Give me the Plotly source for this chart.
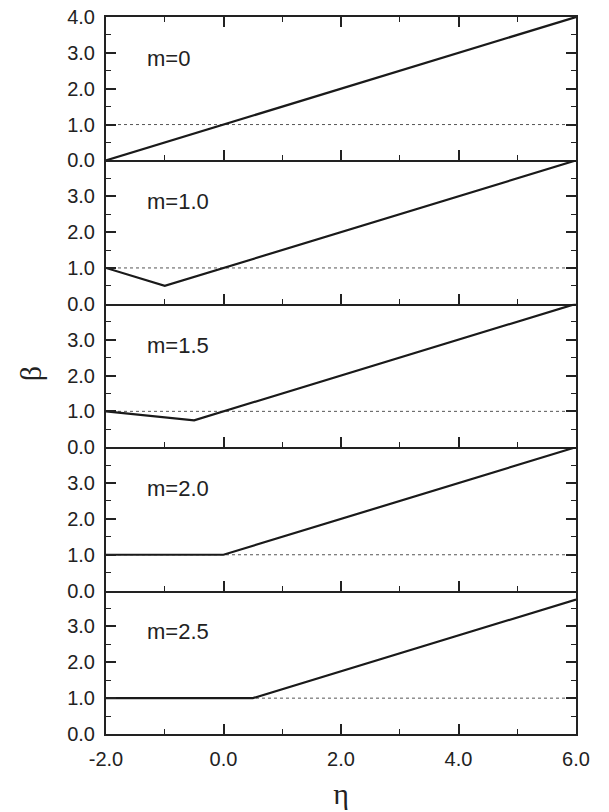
import plotly.graph_objects as go
from plotly.subplots import make_subplots

labels = ["m=0", "m=1.0", "m=1.5", "m=2.0", "m=2.5"]
eta_vals = [
    [-2.0, 6.0],
    [-2.0, -1.0, 6.0],
    [-2.0, -0.5, 6.0],
    [-2.0, 0.0, 6.0],
    [-2.0, 0.5, 6.0],
]
beta_vals = [
    [0.0, 4.0],
    [1.0, 0.5, 4.0],
    [1.0, 0.75, 4.0],
    [1.0, 1.0, 4.0],
    [1.0, 1.0, 3.75],
]
ref_eta = [-2.0, 6.0]
ref_beta = [1.0, 1.0]
x_ticks = [-2, 0, 2, 4, 6]
x_ticktext = ["-2.0", "0.0", "2.0", "4.0", "6.0"]

n = len(labels)
fig = make_subplots(rows=n, cols=1, shared_xaxes=True, vertical_spacing=0)

font_fam = "Liberation Sans, Arial, sans-serif"
ink = "#222222"
for i in range(n):
    r = i + 1
    fig.add_trace(go.Scatter(x=ref_eta, y=ref_beta, mode="lines",
                             line=dict(color="#555555", width=1, dash="3px,3px"),
                             showlegend=False), row=r, col=1)
    fig.add_trace(go.Scatter(x=eta_vals[i], y=beta_vals[i], mode="lines",
                             line=dict(color="#1a1a1a", width=2.2),
                             showlegend=False), row=r, col=1)
    yv = [0, 1, 2, 3, 4] if i == 0 else [0, 1, 2, 3]
    fig.update_yaxes(range=[0, 4], tickvals=yv, ticktext=[f"{v:.1f}" for v in yv],
                     ticks="inside", ticklen=10, tickwidth=1.5, tickcolor=ink,
                     minor=dict(ticks="inside", ticklen=5, tickwidth=1.2, tickcolor=ink,
                                tickvals=[0.5, 1.5, 2.5, 3.5]),
                     showline=True, linecolor=ink, linewidth=2, mirror="ticks",
                     showgrid=False, zeroline=False, ticklabelstandoff=5,
                     automargin=False,
                     tickfont=dict(size=20, color=ink, family=font_fam),
                     row=r, col=1)
    fig.update_xaxes(range=[-2, 6], tickvals=x_ticks, ticktext=x_ticktext,
                     ticks="inside", ticklen=10, tickwidth=1.5, tickcolor=ink,
                     minor=dict(ticks="inside", ticklen=5, tickwidth=1.2, tickcolor=ink,
                                tickvals=[-1, 1, 3, 5]),
                     showline=True, linecolor=ink, linewidth=2,
                     mirror=("ticks" if r == 1 else False),
                     showgrid=False, zeroline=False, automargin=False,
                     showticklabels=(r == n), ticklabelstandoff=6,
                     tickfont=dict(size=20, color=ink, family=font_fam),
                     row=r, col=1)
    yref = "y" if i == 0 else f"y{r}"
    xref = "x" if i == 0 else f"x{r}"
    fig.add_annotation(x=-1.33, y=2.85, xref=xref, yref=yref, text=labels[i],
                       showarrow=False, xanchor="left", yanchor="middle",
                       font=dict(size=22, color=ink, family=font_fam))

fig.update_xaxes(title=dict(text="η", font=dict(size=30, family="Liberation Serif, serif", color=ink),
                            standoff=14), row=n, col=1)
fig.add_annotation(x=-0.162, y=0.503, xref="paper", yref="paper", text="β", showarrow=False,
                   xanchor="center", yanchor="middle", textangle=-90,
                   font=dict(size=30, family="Liberation Serif, serif", color=ink))

fig.update_layout(width=609, height=812, margin=dict(l=106, r=33, t=17, b=78),
                  plot_bgcolor="white", paper_bgcolor="white", showlegend=False)
fig.write_html("out.html")
